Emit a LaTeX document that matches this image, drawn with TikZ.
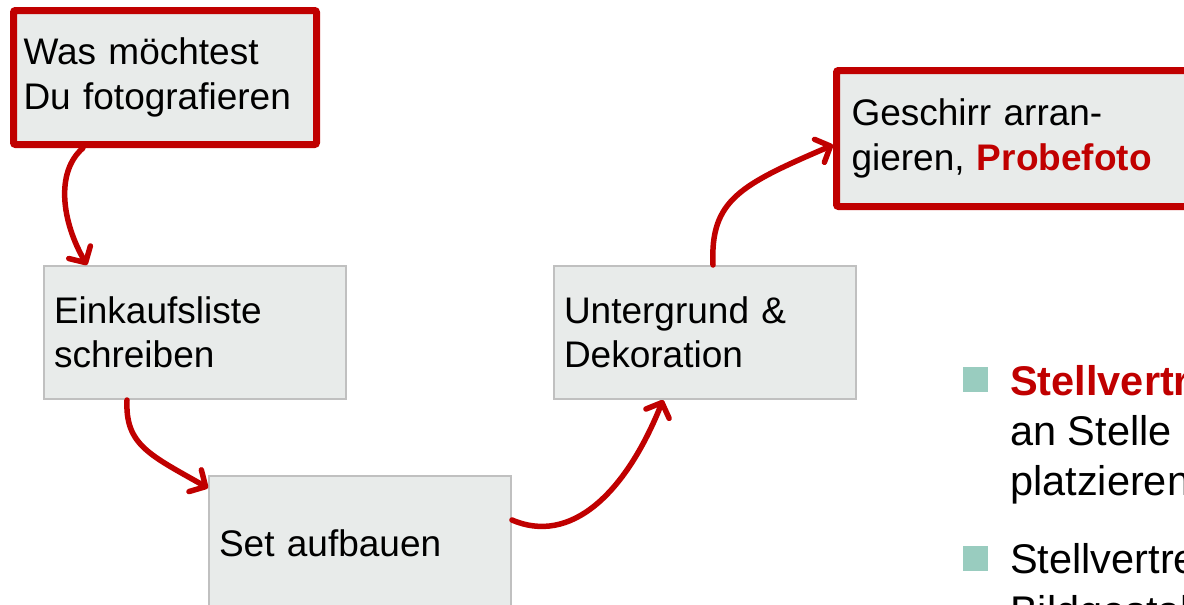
\documentclass[tikz,border=0pt]{standalone}
\usepackage{fontspec}
\setmainfont{Liberation Sans}
\usepackage{tikz}
\usetikzlibrary{arrows.meta}

\definecolor{flowred}{RGB}{192,0,0}
\definecolor{boxfill}{RGB}{232,235,234}
\definecolor{boxline}{RGB}{192,192,192}
\definecolor{bullteal}{RGB}{153,204,191}

\begin{document}
\begin{tikzpicture}[x=1pt,y=1pt,yscale=-1,xscale=1,
  stepbox/.style={draw=boxline, line width=2pt, fill=boxfill, minimum width=302pt, minimum height=133pt,
    text width=282pt, inner xsep=10pt, align=left, anchor=north west, font=\fontsize{37}{44.5}\selectfont},
  keybox/.style={stepbox, draw=flowred, line width=7pt, rounded corners=2pt},
  flow/.style={draw=flowred, line width=5.5pt, line cap=round,
    -{Straight Barb[length=12pt,width=25pt,line cap=round,line join=round]}},
  bulletsq/.style={fill=bullteal, minimum size=25pt, inner sep=0pt},
  bullettext/.style={anchor=base west, inner sep=0pt, align=left, font=\fontsize{41.5}{50}\selectfont}]
\clip (0,0) rectangle (1184,605);
% Text Node
\node [keybox, minimum width=303pt, minimum height=134pt, text width=283pt] (wish) at (10,7) {Was möchtest\\Du fotografieren};
% Text Node
\node [stepbox] (list) at (43,265) {Einkaufsliste\\schreiben};
% Text Node
\node [stepbox, minimum height=135pt] (set) at (208,475) {Set aufbauen};
% Text Node
\node [stepbox] (deco) at (553,265) {Untergrund \&\\Dekoration};
% Text Node
\node [keybox, minimum width=360pt, minimum height=136pt, text width=330pt, inner xsep=15pt] (plate) at (833,67) {Geschirr arran-\\gieren, \textcolor{flowred}{\textbf{Probefoto}}};
%Curve Lines
\draw [flow] ([xshift=73pt]wish.south west) .. controls (55,172) and (62,222) .. ([xshift=44pt]list.north west);
%Curve Lines
\draw [flow] ([xshift=84pt]list.south west) .. controls (125,445) and (150,455) .. ([yshift=13pt]set.north west);
%Curve Lines
\draw [flow] ([yshift=45pt]set.north east) .. controls (570,545) and (625,495) .. ([xshift=110pt]deco.south west);
%Curve Lines
\draw [flow] ([xshift=160pt]deco.north west) .. controls (710,200) and (740,185) .. ([yshift=78pt]plate.north west);
% Bullets
\node [bulletsq] (sq1) at (975.5,379) {};
\node [bulletsq] (sq2) at (975.5,558.5) {};
\node [bullettext] (txt1) at (1010,495) {\textcolor{flowred}{\textbf{Stellvertreter}}\\an Stelle\\platzieren};
\node [bullettext, font=\fontsize{41.5}{52}\selectfont] (txt2) at (1010,625) {Stellvertreter\\Bildgestaltung};
\end{tikzpicture}
\end{document}
